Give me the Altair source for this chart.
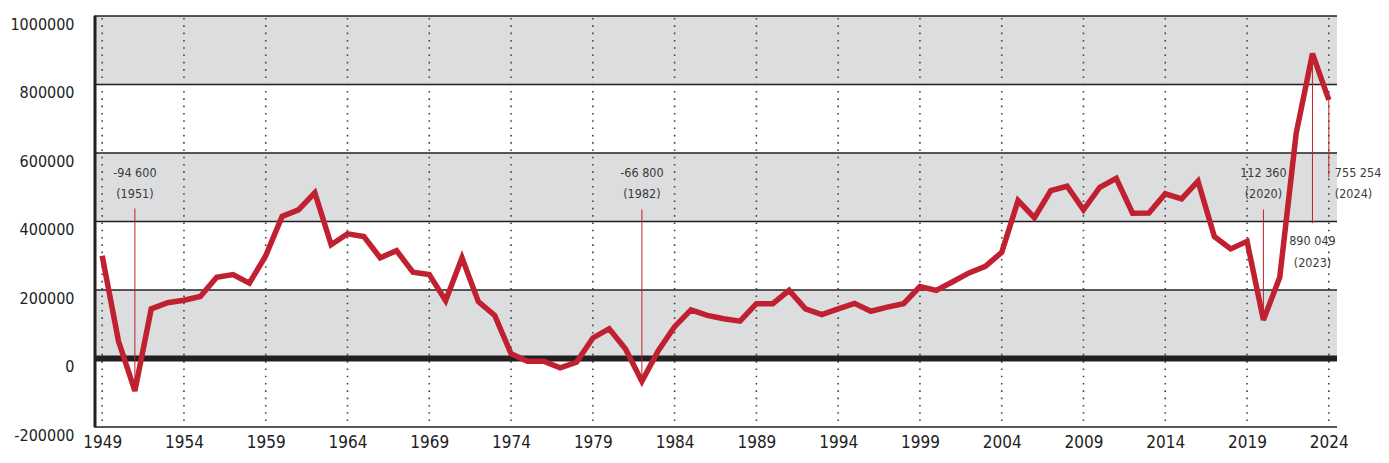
import altair as alt
import pandas as pd

years = list(range(1949, 2025))
values = [
    300000, 50000, -94600, 145000, 163000, 170000, 181000, 237000, 245000, 220000,
    300000, 415000, 434000, 484000, 332000, 364000, 356000, 294000, 315000, 252000,
    245000, 169000, 294000, 166000, 126000, 14000, -8000, -8000, -27000, -11000,
    60000, 87000, 28000, -66800, 23000, 93000, 142000, 126000, 116000, 109000,
    160000, 160000, 199000, 145000, 128000, 145000, 161000, 138000, 150000, 160000,
    210000, 199000, 224000, 250000, 269000, 310000, 461000, 411000, 490000, 503000,
    434000, 500000, 526000, 424000, 425000, 481000, 466000, 518000, 356000, 320000,
    342000, 112360, 237000, 656000, 890049, 755254,
]

band_lo = [800000, 400000, 0]
band_hi = [1000000, 600000, 200000]
hlines = [-200000, 200000, 400000, 600000, 800000, 1000000]
xticks = [1949, 1954, 1959, 1964, 1969, 1974, 1979, 1984, 1989, 1994,
          1999, 2004, 2009, 2014, 2019, 2024]
yticks = [-200000, 0, 200000, 400000, 600000, 800000, 1000000]

ann_years = [1951, 1982, 2020, 2023, 2024]
ann_values = [-94600, -66800, 112360, 890049, 755254]
ann_num = ["-94 600", "-66 800", "112 360", "890 049", "755 254"]
ann_year_txt = ["(1951)", "(1982)", "(2020)", "(2023)", "(2024)"]

# layout (label placement, in value units)
ann_line_end = [438000, 435000, 435000, 395000, 529000]
ann_text_y1 = [541000, 541000, 541000, 342000, 541000]
ann_text_y2 = [479000, 479000, 479000, 280000, 479000]
ann_align = ["center", "center", "center", "center", "left"]

W, H = 1243, 411
RED = "#C0202F"
INK = "#231F20"
FONT = "DejaVu Sans Condensed, DejaVu Sans, sans-serif"

df = pd.DataFrame({"year": years, "value": values})
bands = pd.DataFrame({"lo": band_lo, "hi": band_hi})
hl = pd.DataFrame({"v": hlines})
vl = pd.DataFrame({"year": xticks})
ann = pd.DataFrame({
    "year": ann_years, "value": ann_values, "end": ann_line_end,
    "t1": ann_num, "t2": ann_year_txt, "y1": ann_text_y1, "y2": ann_text_y2,
    "align": ann_align,
})

xs = alt.Scale(domain=[1948.5, 2024.5], nice=False, zero=False)
ys = alt.Scale(domain=[-200000, 1000000], nice=False)

xax = alt.Axis(
    values=xticks, labelExpr="datum.value + ''", domain=False, ticks=False,
    grid=False, labelFontSize=17, labelFont=FONT, labelColor="#222222",
    labelPadding=7, labelBaseline="top", title=None)
yax = alt.Axis(
    values=yticks, labelExpr="datum.value + ''", domain=False, ticks=False,
    grid=False, labelFontSize=16, labelFont=FONT, labelColor="#222222",
    labelPadding=20, labelBaseline="top", labelOffset=0, title=None)

def X(f):
    return alt.X(f, scale=xs, axis=xax, title=None)

def Y(f):
    return alt.Y(f, scale=ys, axis=yax, title=None)

band_layer = alt.Chart(bands).mark_rect(color="#DCDDDF").encode(
    x=alt.value(0), x2=alt.value(W), y=Y("lo:Q"), y2="hi:Q",
)

hline_layer = alt.Chart(hl).mark_rule(color=INK, strokeWidth=1.5).encode(
    y=Y("v:Q"), x=alt.value(0), x2=alt.value(W),
)

vline_layer = alt.Chart(vl).mark_rule(
    color="#444444", strokeWidth=1.6, strokeDash=[1.6, 5.7]
).encode(x=X("year:Q"), y=alt.value(2), y2=alt.value(H))

zero_layer = alt.Chart(pd.DataFrame({"v": [0]})).mark_rule(
    color=INK, strokeWidth=6
).encode(y=Y("v:Q"), x=alt.value(0), x2=alt.value(W))

left_layer = alt.Chart(pd.DataFrame({"v": [0]})).mark_rule(
    color=INK, strokeWidth=3
).encode(x=alt.value(1), y=alt.value(0), y2=alt.value(H))

ann_rule = alt.Chart(ann).mark_rule(color=RED, strokeWidth=1).encode(
    x=X("year:Q"), y=Y("value:Q"), y2="end:Q",
)

line_layer = alt.Chart(df).mark_line(
    color=RED, strokeWidth=5.5, strokeJoin="miter", strokeMiterLimit=3
).encode(x=X("year:Q"), y=Y("value:Q"))

def text_layer(col, ycol, align, dx):
    return alt.Chart(ann[ann["align"] == align]).mark_text(
        font=FONT, fontSize=12.5, color="#3a3a3a", align=align, baseline="middle", dx=dx,
    ).encode(x=X("year:Q"), y=Y(f"{ycol}:Q"), text=f"{col}:N")

texts = [
    text_layer("t1", "y1", "center", 0), text_layer("t2", "y2", "center", 0),
    text_layer("t1", "y1", "left", 6), text_layer("t2", "y2", "left", 6),
]

chart = alt.layer(
    band_layer, hline_layer, vline_layer, zero_layer, ann_rule, line_layer,
    left_layer, *texts,
).properties(
    width=W, height=H,
    padding={"left": 86, "top": 8, "right": 44, "bottom": 28},
    autosize=alt.AutoSizeParams(type="none"),
).configure_view(stroke=None)

chart.save("out.html", embed_options={"renderer": "svg", "actions": False})
